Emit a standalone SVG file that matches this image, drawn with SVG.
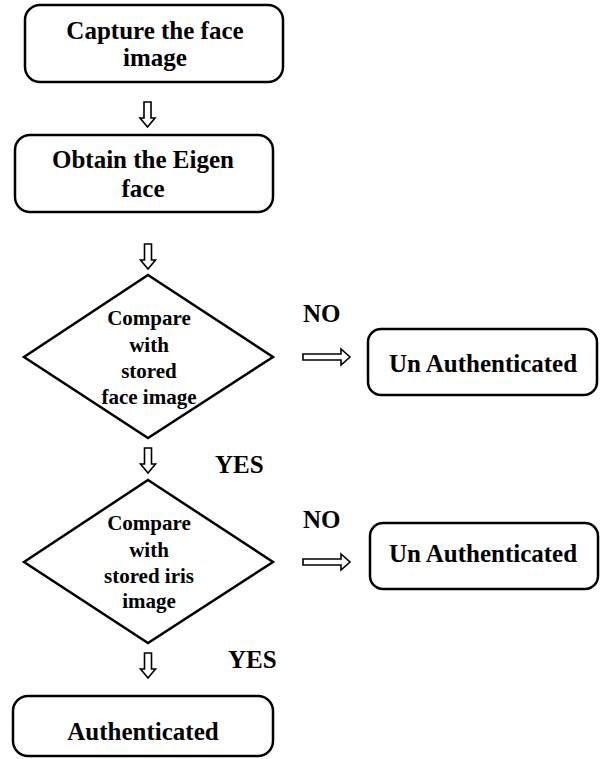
<svg xmlns="http://www.w3.org/2000/svg" width="600" height="759" viewBox="0 0 600 759">
<style>
.box{fill:#fff;stroke:#000;stroke-width:2.5}
.dia{fill:#fff;stroke:#000;stroke-width:2.5;stroke-linejoin:miter}
text{font-family:'Liberation Serif',serif;font-weight:bold;fill:#000}
.t{font-size:25px;text-anchor:middle}
.td{font-size:21px;text-anchor:middle}
.lab{font-size:25px}
.arr{fill:#fff;stroke:#000;stroke-width:1.6;stroke-linejoin:miter}
</style>
<defs>
<path id="down" d="M-3.5,0 h7 v16 h4 l-7.5,9 l-7.5,-9 h4 z"/>
<path id="right" d="M0,-3 h38 v-5 l9,8 l-9,8 v-5 h-38 z"/>
</defs>
<rect width="600" height="759" fill="#fff"/>
<g id="n1">
<rect class="box" x="25" y="5" width="258" height="77" rx="15"/>
<text class="t" x="155" y="39" font-family="Liberation Serif">Capture the face</text>
<text class="t" x="155" y="66" font-family="Liberation Serif">image</text>
</g>
<g id="n2">
<rect class="box" x="15" y="135" width="258" height="77" rx="15"/>
<text class="t" x="143" y="168">Obtain the Eigen</text>
<text class="t" x="143" y="197">face</text>
</g>
<g id="n3">
<polygon class="dia" points="148,275 273,357 148,438 24,357"/>
<text class="td" x="149" y="325">Compare</text>
<text class="td" x="149" y="352">with</text>
<text class="td" x="149" y="378">stored</text>
<text class="td" x="149" y="404">face image</text>
</g>
<g id="n4">
<rect class="box" x="368" y="329" width="229" height="66" rx="13"/>
<text class="t" x="483" y="372">Un Authenticated</text>
</g>
<g id="n5">
<polygon class="dia" points="148,480 273,562 148,643 24,562"/>
<text class="td" x="149" y="530">Compare</text>
<text class="td" x="149" y="557">with</text>
<text class="td" x="149" y="583">stored iris</text>
<text class="td" x="149" y="608">image</text>
</g>
<g id="n6">
<rect class="box" x="370" y="523" width="228" height="66" rx="13"/>
<text class="t" x="483" y="562">Un Authenticated</text>
</g>
<g id="n7">
<rect class="box" x="13" y="696" width="260" height="60" rx="15"/>
<text class="t" x="143" y="740">Authenticated</text>
</g>
<g id="connectors">
<use href="#down" class="arr" x="147.5" y="102"/>
<use href="#down" class="arr" x="148" y="244"/>
<use href="#down" class="arr" x="148" y="448"/>
<use href="#down" class="arr" x="148" y="653"/>
<use href="#right" class="arr" x="303" y="357"/>
<use href="#right" class="arr" x="303" y="562"/>
<text class="lab" x="303" y="322">NO</text>
<text class="lab" x="303" y="528">NO</text>
<text class="lab" x="215" y="473">YES</text>
<text class="lab" x="228" y="668">YES</text>
</g>
</svg>
